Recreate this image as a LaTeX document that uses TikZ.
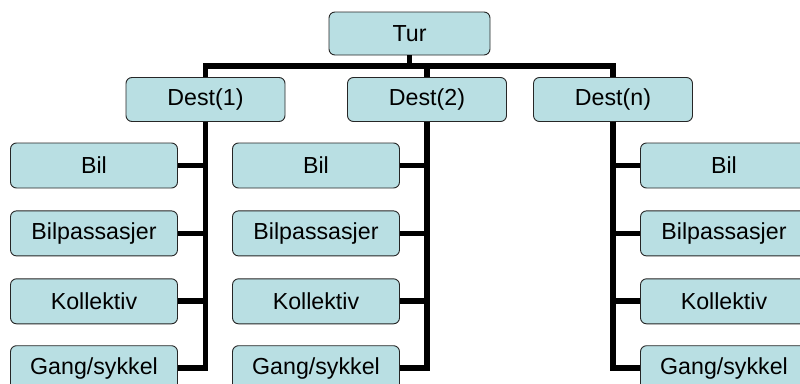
\documentclass[tikz,border=0pt]{standalone}
\usepackage{fontspec}
\setmainfont{Liberation Sans}
\usetikzlibrary{positioning}
\definecolor{boxfill}{RGB}{185,223,227}
\tikzset{
	box/.style = {draw=black!85, fill=boxfill, rounded corners=6pt, line width=0.9pt, minimum height=45pt, minimum width=167pt, align=center, inner sep=0pt, font=\fontsize{23.2}{27}\selectfont},
	link/.style = {line width=5.8pt},
}

\begin{document}
\begin{tikzpicture}[x=1pt, y=-1pt, node distance=22pt]
	\clip (0,0) rectangle (800,383);
	
	% Trip
	\node[box, minimum width=161pt, minimum height=43pt] (tur) at (409.5,33.5) {Tur};
	
	% Destinations
	\node[box, minimum width=159pt, minimum height=44pt] (d1) at (205.5,99.5) {Dest(1)};
	\node[box, minimum width=159pt, minimum height=44pt] (d2) at (427,99.5) {Dest(2)};
	\node[box, minimum width=159pt, minimum height=44pt] (dn) at (613,99.5) {Dest(n)};
	
	% Modes under each destination
	\foreach \col/\x in {a/94, b/316, c/724} {
		\node[box] (\col1) at (\x,165.5) {Bil};
		\node[box, below=of \col1] (\col2) {Bilpassasjer};
		\node[box, below=of \col2] (\col3) {Kollektiv};
		\node[box, below=21pt of \col3] (\col4) {Gang/sykkel};
	}
	
	% Connections
	\coordinate (bar) at (0,66);
	\draw[link] (tur.south) -- (tur.south |- bar);
	\draw[link] (d1.north) -- (d1.north |- bar) -- (dn.north |- bar) -- (dn.north);
	\draw[link] (d2.north) -- (d2.north |- bar);
	
	\foreach \i in {1,...,4} {
		\draw[link] (d1.south) |- (a\i.east);
		\draw[link] (d2.south) |- (b\i.east);
		\draw[link] (dn.south) |- (c\i.west);
	}
	
\end{tikzpicture}
\end{document}
